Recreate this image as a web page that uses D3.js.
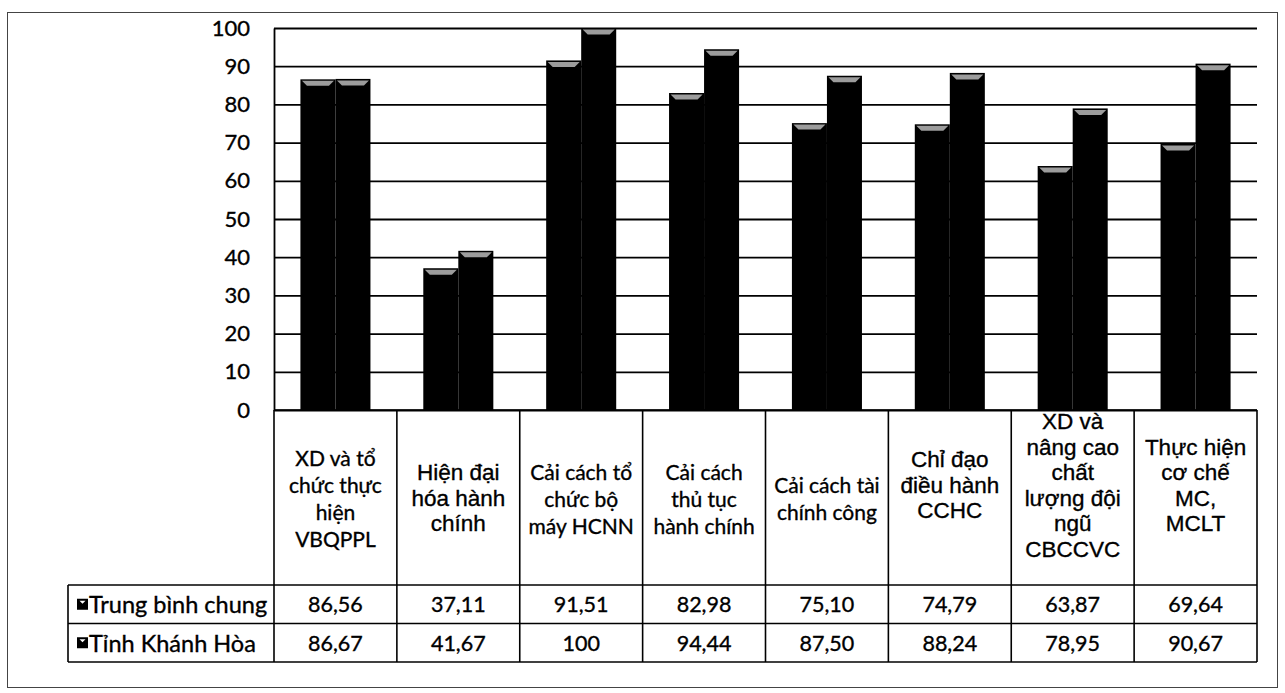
<!DOCTYPE html>
<html>
<head>
<meta charset="utf-8">
<script src="https://cdn.jsdelivr.net/npm/d3@7"></script>
<style>
  html, body { margin: 0; padding: 0; background: #fff; }
  svg { display: block; }
</style>
</head>
<body>
<svg id="chart" width="1285" height="693"></svg>
<script>
// Category labels (one entry per line of the wrapped label)
const categories = [
  ["XD và tổ", "chức thực", "hiện", "VBQPPL"],
  ["Hiện đại", "hóa hành", "chính"],
  ["Cải cách tổ", "chức bộ", "máy HCNN"],
  ["Cải cách", "thủ tục", "hành chính"],
  ["Cải cách tài", "chính công"],
  ["Chỉ đạo", "điều hành", "CCHC"],
  ["XD và", "nâng cao", "chất", "lượng đội", "ngũ", "CBCCVC"],
  ["Thực hiện", "cơ chế", "MC,", "MCLT"]
];
const seriesNames = ["Trung bình chung", "Tỉnh Khánh Hòa"];
const avgValues = [86.56, 37.11, 91.51, 82.98, 75.10, 74.79, 63.87, 69.64];
const khanhHoaValues = [86.67, 41.67, 100, 94.44, 87.50, 88.24, 78.95, 90.67];
const yTicks = [0, 10, 20, 30, 40, 50, 60, 70, 80, 90, 100];

const seriesValues = [avgValues, khanhHoaValues];

const svg = d3.select("#chart");

// Layout
const plot = { left: 274, right: 1257, top: 28, bottom: 410 };
const labelBottom = 585;       // bottom of the category label cells
const rowH = 38.5;             // data table row height
const tableLeft = 68;

const CAL = "Lato, 'Open Sans', sans-serif";
const ARI = "'Liberation Sans', Arial, sans-serif";
// labels typed in a sans face; the last three carry a trailing empty line
const arialLabels = new Set([1, 5, 6, 7]);
const trailingBlank = new Set([5, 6, 7]);

// slightly heavy ink for all text
const ink = sel => sel.attr("fill", "#000").attr("stroke", "#000").attr("stroke-width", 0.35);

const x = d3.scaleBand().domain(d3.range(categories.length)).range([plot.left, plot.right]).padding(0);
const bw = x.bandwidth();
const gap = bw * 0.215;
const xs = d3.scaleBand().domain(d3.range(seriesNames.length)).range([gap, bw - gap]).padding(0);
const y = d3.scaleLinear().domain([0, 100]).range([plot.bottom, plot.top]);

// Outer chart frame
svg.append("rect")
  .attr("x", 7.5).attr("y", 12.5).attr("width", 1270).attr("height", 675)
  .attr("fill", "none").attr("stroke", "#444").attr("stroke-width", 1);

// Gridlines
const grid = svg.append("g")
  .attr("transform", `translate(${plot.left},0)`)
  .call(d3.axisLeft(y).tickValues(yTicks).tickSize(-(plot.right - plot.left)).tickFormat(""));
grid.select(".domain").remove();
grid.selectAll(".tick line").attr("stroke", "#000").attr("stroke-width", 1.8);

// Y tick labels
const yAxis = svg.append("g")
  .attr("transform", `translate(${plot.left},0)`)
  .call(d3.axisLeft(y).tickValues(yTicks).tickSize(0).tickPadding(24).tickFormat(d3.format("d")));
yAxis.select(".domain").attr("stroke", "#000").attr("stroke-width", 1.8);
yAxis.selectAll("text")
  .attr("font-family", CAL).attr("font-size", 22).call(ink);

// Bars
const barData = [];
categories.forEach((c, i) => {
  seriesValues.forEach((vals, s) => barData.push({ i, s, v: vals[i] }));
});

const bars = svg.append("g");
bars.selectAll("rect")
  .data(barData)
  .join("rect")
  .attr("x", d => x(d.i) + xs(d.s))
  .attr("y", d => y(d.v))
  .attr("width", xs.bandwidth())
  .attr("height", d => y(0) - y(d.v))
  .attr("fill", "#000");

// Bevelled top cap of each bar
bars.selectAll("path.cap")
  .data(barData)
  .join("path")
  .attr("class", "cap")
  .attr("d", d => {
    const x0 = x(d.i) + xs(d.s) + 1.5, x1 = x0 + xs.bandwidth() - 3;
    const t = y(d.v) + 1.5;
    return `M${x0},${t}L${x1},${t}L${x1 - 5},${t + 5}L${x0 + 5},${t + 5}Z`;
  })
  .attr("fill", "#9c9c9c");

// Data table: lines
const tbl = svg.append("g").attr("stroke", "#000").attr("stroke-width", 1.6);
const boundaries = d3.range(categories.length + 1).map(i => i < categories.length ? x(i) : plot.right);
boundaries.forEach(bx => {
  tbl.append("line").attr("x1", bx).attr("x2", bx)
    .attr("y1", plot.bottom).attr("y2", labelBottom + 2 * rowH);
});
tbl.append("line").attr("x1", plot.left).attr("x2", plot.right).attr("y1", plot.bottom).attr("y2", plot.bottom);
[0, 1, 2].forEach(r => {
  tbl.append("line").attr("x1", tableLeft).attr("x2", plot.right)
    .attr("y1", labelBottom + r * rowH).attr("y2", labelBottom + r * rowH);
});
tbl.append("line").attr("x1", tableLeft).attr("x2", tableLeft)
  .attr("y1", labelBottom).attr("y2", labelBottom + 2 * rowH);

// Category labels
const cellMid = (plot.bottom + labelBottom) / 2;
categories.forEach((lines, i) => {
  const sans = arialLabels.has(i);
  const lh = sans ? 25.5 : 27;
  const n = lines.length + (trailingBlank.has(i) ? 1 : 0);
  const first = cellMid - (n - 1) * lh / 2;
  const t = svg.append("text")
    .attr("text-anchor", "middle")
    .attr("dominant-baseline", "central")
    .attr("font-family", sans ? ARI : CAL)
    .attr("font-size", sans ? 22.5 : 21)
    .call(ink);
  lines.forEach((ln, k) => {
    t.append("tspan").attr("x", x(i) + bw / 2).attr("y", first + k * lh).text(ln);
  });
});

// Table rows: legend key, series name, values
const fmt = v => Number.isInteger(v) ? String(v) : v.toFixed(2).replace(".", ",");
seriesNames.forEach((name, s) => {
  const cy = labelBottom + s * rowH + rowH / 2;
  svg.append("rect").attr("x", 77).attr("y", cy - 5.5).attr("width", 11).attr("height", 11).attr("fill", "#000");
  svg.append("path")
    .attr("d", `M79.5,${cy - 3.5}L85.5,${cy - 3.5}L82.5,${cy - 0.5}Z`)
    .attr("fill", "#fff");
  svg.append("text")
    .attr("x", 89).attr("y", cy)
    .attr("dominant-baseline", "central")
    .attr("font-family", CAL).attr("font-size", 23.5)
    .call(ink)
    .text(name);
  svg.append("g").selectAll("text")
    .data(seriesValues[s])
    .join("text")
    .attr("x", (d, i) => x(i) + bw / 2)
    .attr("y", cy)
    .attr("text-anchor", "middle")
    .attr("dominant-baseline", "central")
    .attr("font-family", CAL).attr("font-size", 21.5)
    .call(ink)
    .text(d => fmt(d));
});
</script>
</body>
</html>
